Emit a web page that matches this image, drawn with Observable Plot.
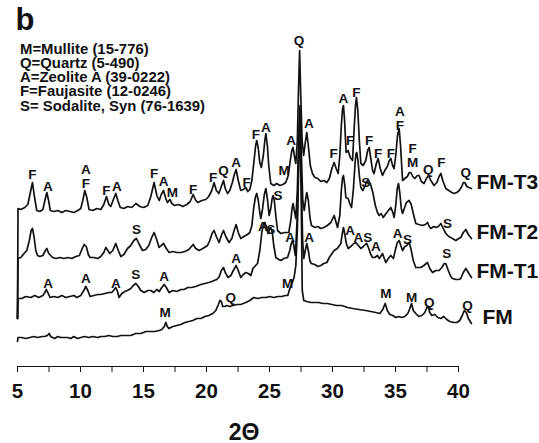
<!DOCTYPE html>
<html>
<head>
<meta charset="utf-8">
<script src="https://cdn.jsdelivr.net/npm/d3@7"></script>
<script src="https://cdn.jsdelivr.net/npm/@observablehq/plot@0.6"></script>
<style>
  html, body { margin: 0; padding: 0; background: #fff; }
  #chart { position: relative; width: 539px; height: 443px; font-family: "Liberation Sans", Arial, sans-serif; color: #111; }
  #chart svg { position: absolute; left: 0; top: 0; }
  .panel { position: absolute; left: 15.5px; top: 0px; font-size: 31px; font-weight: bold; line-height: 40px; }
  .key { position: absolute; left: 20px; top: 41.5px; font-size: 14.9px; font-weight: bold; line-height: 14.3px; white-space: pre; }
</style>
</head>
<body>
<div id="chart"></div>
<script>
// XRD patterns, 2θ (degrees) vs. stacked intensity (arbitrary units, offset per sample)
const fmT3 = [[5.00,48],[5.04,158],[5.26,157],[5.58,159],[5.82,162],[6.02,174],[6.19,184],[6.33,171],[6.53,156],[6.77,155],[7.01,157],[7.21,168],[7.33,174],[7.47,166],[7.60,156],[7.88,155],[8.20,156],[8.52,154],[8.83,156],[9.15,155],[9.47,154],[9.79,156],[10.02,158],[10.18,166],[10.34,176],[10.50,169],[10.68,157],[10.98,156],[11.29,158],[11.61,157],[11.85,162],[12.06,170],[12.25,162],[12.40,160],[12.64,168],[12.80,173],[12.96,166],[13.16,159],[13.44,158],[13.75,160],[14.07,159],[14.39,163],[14.71,160],[15.02,159],[15.34,161],[15.58,170],[15.84,184],[16.06,171],[16.25,166],[16.41,172],[16.59,176],[16.77,168],[16.90,164],[17.09,167],[17.25,163],[17.48,161],[17.80,162],[18.12,160],[18.44,162],[18.71,165],[18.94,172],[19.15,166],[19.31,164],[19.63,166],[19.94,167],[20.18,170],[20.42,176],[20.60,184],[20.78,176],[20.98,173],[21.18,180],[21.35,186],[21.49,178],[21.67,173],[21.85,176],[22.05,184],[22.21,192],[22.35,197],[22.52,186],[22.72,176],[22.92,177],[23.12,179],[23.28,175],[23.44,177],[23.60,186],[23.75,203],[23.90,221],[23.99,226],[24.11,218],[24.23,204],[24.35,199],[24.51,211],[24.63,226],[24.71,233],[24.83,221],[24.94,201],[25.10,183],[25.34,181],[25.58,183],[25.82,181],[26.06,182],[26.29,184],[26.49,191],[26.65,206],[26.77,216],[26.87,219],[26.97,211],[27.09,203],[27.21,226],[27.30,276],[27.39,316],[27.48,271],[27.59,226],[27.71,211],[27.84,224],[27.96,234],[28.08,221],[28.24,201],[28.41,193],[28.60,189],[28.83,188],[29.07,185],[29.31,186],[29.55,184],[29.75,188],[29.95,198],[30.13,204],[30.29,198],[30.45,193],[30.58,211],[30.70,241],[30.80,258],[30.87,261],[30.96,246],[31.08,214],[31.24,216],[31.41,209],[31.59,206],[31.71,236],[31.83,262],[31.90,269],[32.01,256],[32.13,226],[32.25,203],[32.44,201],[32.64,206],[32.79,216],[32.91,219],[33.04,208],[33.18,196],[33.30,193],[33.48,203],[33.62,208],[33.79,198],[33.97,191],[34.15,196],[34.35,200],[34.51,206],[34.63,208],[34.77,201],[34.89,198],[35.02,211],[35.16,231],[35.29,238],[35.40,221],[35.56,186],[35.74,188],[35.94,190],[36.10,194],[36.22,194],[36.37,190],[36.53,188],[36.73,191],[36.87,191],[37.05,185],[37.27,183],[37.45,188],[37.62,191],[37.80,186],[38.06,181],[38.28,184],[38.46,190],[38.60,193],[38.75,186],[38.99,178],[39.23,176],[39.47,174],[39.65,173],[39.87,174],[40.06,176],[40.26,180],[40.38,184],[40.50,184],[40.66,180],[40.82,179],[41.03,178]];

const fmT2 = [[5.00,48],[5.04,108],[5.26,109],[5.52,113],[5.74,116],[5.94,126],[6.08,136],[6.19,138],[6.31,130],[6.45,116],[6.59,111],[6.77,110],[7.01,111],[7.21,116],[7.33,118],[7.48,113],[7.78,109],[8.04,108],[8.36,109],[8.68,108],[8.99,109],[9.31,108],[9.63,110],[9.91,111],[10.14,118],[10.29,122],[10.46,120],[10.62,112],[10.76,109],[11.06,109],[11.37,108],[11.61,110],[11.85,114],[12.01,119],[12.17,116],[12.33,113],[12.56,116],[12.80,123],[13.00,116],[13.20,110],[13.44,112],[13.73,118],[13.99,121],[14.23,126],[14.44,128],[14.67,122],[14.92,116],[15.18,117],[15.42,121],[15.62,128],[15.84,134],[16.02,128],[16.24,119],[16.41,121],[16.59,123],[16.81,118],[17.03,114],[17.33,115],[17.64,114],[17.96,114],[18.28,115],[18.60,117],[18.94,122],[19.15,118],[19.41,116],[19.71,118],[20.08,121],[20.26,126],[20.44,133],[20.60,136],[20.78,130],[21.00,124],[21.18,131],[21.35,136],[21.53,130],[21.79,124],[22.01,128],[22.19,136],[22.35,142],[22.52,134],[22.72,128],[22.96,130],[23.25,132],[23.44,134],[23.60,141],[23.75,159],[23.89,170],[23.99,173],[24.11,166],[24.23,154],[24.31,148],[24.43,156],[24.59,172],[24.71,178],[24.83,168],[24.97,151],[25.10,158],[25.21,168],[25.29,171],[25.38,166],[25.50,151],[25.64,136],[25.90,133],[26.21,134],[26.53,134],[26.69,146],[26.79,158],[26.87,163],[26.97,156],[27.09,148],[27.21,176],[27.31,226],[27.42,261],[27.52,216],[27.64,166],[27.76,156],[27.88,168],[27.96,174],[28.08,166],[28.22,148],[28.33,141],[28.60,139],[28.83,140],[29.07,138],[29.31,139],[29.59,141],[29.87,144],[30.13,151],[30.40,139],[30.58,151],[30.70,176],[30.80,189],[30.87,191],[30.98,181],[31.06,169],[31.24,168],[31.37,163],[31.51,159],[31.65,176],[31.79,203],[31.87,213],[31.93,214],[32.02,206],[32.13,191],[32.25,179],[32.40,176],[32.56,180],[32.72,185],[32.84,186],[33.00,183],[33.20,174],[33.40,161],[33.57,154],[33.70,151],[33.87,153],[34.02,149],[34.19,152],[34.43,156],[34.63,159],[34.79,154],[34.89,149],[35.02,161],[35.14,178],[35.24,183],[35.34,174],[35.46,158],[35.56,153],[35.70,158],[35.86,164],[36.08,166],[36.25,162],[36.41,153],[36.61,143],[36.85,142],[37.14,141],[37.37,142],[37.54,144],[37.68,140],[37.80,138],[38.04,140],[38.20,139],[38.40,140],[38.60,143],[38.79,138],[38.99,133],[39.23,130],[39.52,128],[39.79,126],[40.02,128],[40.18,129],[40.38,134],[40.58,137],[40.78,132],[41.03,128]];

const fmT1 = [[5.00,48],[5.04,68],[5.34,68],[5.66,70],[6.06,69],[6.37,71],[6.69,69],[7.01,71],[7.17,74],[7.29,77],[7.44,73],[7.59,69],[7.88,70],[8.20,69],[8.52,71],[8.83,69],[9.15,70],[9.49,71],[9.71,69],[10.02,71],[10.26,76],[10.42,80],[10.58,76],[10.76,70],[11.06,71],[11.37,72],[11.61,72],[11.93,73],[12.25,74],[12.48,74],[12.68,77],[12.80,79],[12.94,75],[13.06,69],[13.28,73],[13.52,75],[13.73,76],[13.99,78],[14.19,81],[14.39,83],[14.59,80],[14.79,76],[15.05,74],[15.34,76],[15.58,76],[15.82,74],[16.06,77],[16.25,75],[16.45,79],[16.64,82],[16.81,79],[17.03,74],[17.33,76],[17.64,75],[17.96,77],[18.22,77],[18.52,79],[18.83,79],[19.15,80],[19.55,82],[19.87,83],[20.18,84],[20.42,85],[20.60,86],[20.82,87],[21.02,90],[21.18,96],[21.35,99],[21.49,94],[21.71,89],[21.93,91],[22.13,96],[22.35,101],[22.52,96],[22.72,89],[22.92,92],[23.12,94],[23.32,93],[23.52,91],[23.68,98],[24.05,103],[24.23,116],[24.39,134],[24.51,142],[24.63,144],[24.75,140],[24.89,133],[25.01,138],[25.10,139],[25.22,134],[25.34,121],[25.50,109],[25.74,107],[25.90,106],[26.14,108],[26.43,109],[26.61,116],[26.73,123],[26.83,126],[26.93,121],[27.05,111],[27.19,146],[27.31,206],[27.41,251],[27.51,196],[27.63,126],[27.72,108],[27.84,116],[27.96,123],[28.08,116],[28.20,106],[28.32,103],[28.60,102],[28.83,100],[29.07,101],[29.31,103],[29.55,104],[29.79,110],[30.13,116],[30.38,118],[30.66,123],[30.78,133],[30.87,139],[30.98,132],[31.10,123],[31.24,118],[31.45,120],[31.69,123],[31.85,124],[32.05,121],[32.25,118],[32.44,120],[32.60,122],[32.72,123],[32.88,118],[33.04,112],[33.18,109],[33.36,109],[33.57,111],[33.71,108],[33.83,110],[33.97,113],[34.11,108],[34.23,104],[34.43,108],[34.63,111],[34.83,108],[34.98,116],[35.14,124],[35.29,126],[35.42,121],[35.56,116],[35.74,120],[35.90,121],[36.08,124],[36.22,118],[36.41,106],[36.61,99],[36.85,99],[37.01,99],[37.25,101],[37.54,104],[37.72,98],[37.94,94],[38.20,96],[38.46,96],[38.68,99],[38.87,103],[38.99,103],[39.19,96],[39.39,90],[39.52,88],[39.79,87],[40.02,87],[40.18,88],[40.38,94],[40.58,98],[40.78,94],[41.03,89]];

const fm = [[5.00,25],[5.04,29],[5.34,29],[5.66,28],[5.98,29],[6.29,30],[6.61,29],[6.93,30],[7.17,30],[7.37,31],[7.51,33],[7.64,30],[7.78,29],[7.96,28],[8.20,30],[8.44,29],[8.70,29],[8.99,29],[9.23,28],[9.47,30],[9.76,28],[10.02,29],[10.34,30],[10.66,29],[10.98,30],[11.35,29],[11.61,30],[11.93,30],[12.25,31],[12.56,30],[12.94,30],[13.20,31],[13.60,31],[13.99,31],[14.39,33],[14.79,33],[15.18,35],[15.58,35],[15.90,35],[16.24,36],[16.45,37],[16.65,40],[16.77,44],[16.89,40],[17.01,38],[17.33,40],[17.64,41],[17.96,42],[18.28,44],[18.60,45],[18.91,46],[19.23,48],[19.55,48],[19.87,50],[20.18,51],[20.50,53],[20.74,56],[20.94,62],[21.06,66],[21.18,65],[21.29,60],[21.45,60],[21.61,61],[21.85,60],[22.09,61],[22.41,62],[22.72,62],[23.12,64],[23.44,66],[23.75,69],[24.07,68],[24.39,69],[24.71,69],[25.02,70],[25.34,69],[25.66,70],[25.98,70],[26.25,71],[26.45,71],[26.64,79],[26.81,84],[26.95,89],[27.09,101],[27.21,136],[27.31,196],[27.41,256],[27.50,186],[27.60,76],[27.72,66],[27.96,65],[28.28,64],[28.60,64],[28.91,64],[29.23,63],[29.60,63],[29.95,62],[30.34,61],[30.74,61],[31.19,59],[31.61,58],[32.09,57],[32.64,56],[33.04,55],[33.44,54],[33.75,53],[33.99,57],[34.18,63],[34.35,56],[34.55,52],[34.79,51],[35.02,49],[35.26,50],[35.50,49],[35.74,50],[35.98,53],[36.14,58],[36.27,63],[36.41,56],[36.61,53],[36.85,50],[37.09,51],[37.33,54],[37.49,59],[37.59,60],[37.72,54],[37.88,51],[38.12,52],[38.36,49],[38.60,48],[38.83,50],[39.07,47],[39.31,45],[39.63,44],[39.87,44],[40.10,46],[40.30,51],[40.46,56],[40.62,54],[40.78,48],[41.03,43]];

// phase assignments: [letter(s), 2θ, height above pattern]; letters sharing a peak are set together
const peaksT3 = [["F",6.19,192],["A",7.41,180],["A\nF",10.42,190],["F",12.05,176],["A",12.88,180],["F",15.84,193],["A",16.59,185],["M",17.30,174],["F",18.94,177],["F",20.52,189],["Q",21.35,196],["A",22.35,204],["F",23.18,184],["F",23.91,232],["A",24.71,239],["M",26.16,196],["A",26.72,226],["Q",27.35,326],["A",28.12,243],["F",30.08,213],["A",30.87,268],["F",31.40,226],["F",31.90,274],["F",32.91,226],["F",33.62,213],["F",34.63,213],["A\nF",35.34,248],["F\nM",36.35,211],["Q",37.59,197],["F",38.65,204],["Q",40.58,194]];
const peaksT2 = [["S",14.44,137],["S",25.68,171],["S",32.64,184],["S",39.13,143]];
const peaksT1 = [["A",7.44,83],["A",10.42,88],["A",12.80,83],["S",14.39,92],["A",16.64,90],["A",22.35,108],["A",24.47,140],["S",25.10,137],["A",26.64,129],["A",28.14,129],["A",31.40,136],["AS",32.42,129],["A",33.44,120],["A",35.16,133],["S",35.95,127],["S",39.07,113]];
const peaksFM = [["M",16.71,54],["Q",21.93,69],["M",26.43,83],["M",34.23,73],["M",36.27,69],["Q",37.67,64],["Q",40.72,61]];

const sampleNames = ["FM-T3", "FM-T2", "FM-T1", "FM"];
const phaseKey = ["M=Mullite (15-776)", "Q=Quartz (5-490)", "A=Zeolite A (39-0222)", "F=Faujasite (12-0246)", "S= Sodalite, Syn (76-1639)"];
const majorTicks = [5, 10, 15, 20, 25, 30, 35, 40];
const minorTicks = [7.5, 12.5, 17.5, 22.5, 27.5, 32.5, 37.5];
const xTitle = "2Θ";

const patterns = [fmT3, fmT2, fmT1, fm];
const peakSets = [peaksT3, peaksT2, peaksT1, peaksFM];
const ink = "#111";

const traceMarks = patterns.map((p) =>
  Plot.line(p, {x: (d) => d[0], y: (d) => d[1], stroke: ink, strokeWidth: 1.7, strokeLinejoin: "round"})
);
const peakMarks = peakSets.map((s) =>
  Plot.text(s, {x: (d) => d[1], y: (d) => d[2], text: (d) => d[0], fontSize: 13.5, lineHeight: 1.0, fontWeight: "bold", fill: ink})
);

// sample names sit just after the last point of each pattern
const ends = patterns.map((p, i) => ({name: sampleNames[i], x: p[p.length - 1][0], y: p[p.length - 1][1]}));

const chart = Plot.plot({
  width: 539,
  height: 443,
  marginLeft: 17,
  marginRight: 81,
  marginTop: 36,
  marginBottom: 77,
  style: {fontFamily: "'Liberation Sans', Arial, sans-serif", background: "transparent", color: ink},
  x: {domain: [5, 40]},
  y: {domain: [0, 330], axis: null},
  marks: [
    Plot.ruleY([0], {stroke: ink, strokeWidth: 1.2}),
    Plot.axisX({ticks: majorTicks, tickSize: 6, tickPadding: 11, label: null, fontSize: 20.5, fontWeight: "bold", stroke: ink, fill: ink}),
    Plot.axisX({ticks: minorTicks, tickSize: 6, tickFormat: () => "", label: null, stroke: ink}),
    ...traceMarks,
    ...peakMarks,
    Plot.text(ends.slice(0, 3), {x: "x", y: "y", text: "name", textAnchor: "start", dx: 5, dy: -6, fontSize: 21, fontWeight: "bold", fill: ink}),
    Plot.text(ends.slice(3), {x: "x", y: "y", text: "name", textAnchor: "start", dx: 11, dy: -6, fontSize: 21, fontWeight: "bold", fill: ink}),
    Plot.text([xTitle], {frameAnchor: "bottom", dx: 6, dy: 73, fontSize: 23, fontWeight: "bold", fill: ink})
  ]
});

const root = document.getElementById("chart");
root.appendChild(chart);
const panel = document.createElement("div");
panel.className = "panel";
panel.textContent = "b";
root.appendChild(panel);
const key = document.createElement("div");
key.className = "key";
key.textContent = phaseKey.join("\n");
root.appendChild(key);
</script>
</body>
</html>
